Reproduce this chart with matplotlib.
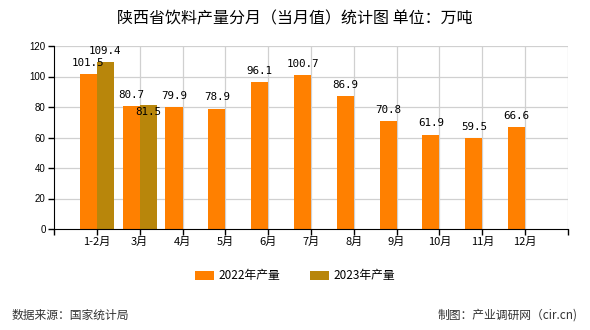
import numpy as np
import matplotlib
matplotlib.use("Agg")
import matplotlib.pyplot as plt

plt.rcParams['font.family'] = ['Noto Sans CJK SC', 'DejaVu Sans']

# dados mensais (万吨)
meses = ["1-2月", "3月", "4月", "5月", "6月", "7月", "8月", "9月", "10月", "11月", "12月"]
prod_2022 = [101.5, 80.7, 79.9, 78.9, 96.1, 100.7, 86.9, 70.8, 61.9, 59.5, 66.6]
prod_2023 = [109.4, 81.5]
yticks = [0, 20, 40, 60, 80, 100, 120]

cor_2022 = "#FF8000"
cor_2023 = "#B8860B"
largura = 0.4

fig = plt.figure(figsize=(5.9, 3.3), dpi=100)
ax = fig.add_axes([54 / 590, 1 - 229 / 330, (568 - 54) / 590, (229 - 46) / 330])

x = np.arange(len(meses))
x23 = np.arange(len(prod_2023))

# grade
for xv in range(1, len(meses) + 1):
    ax.axvline(xv, color="#d0d0d0", lw=0.9, zorder=0)
for yv in yticks[1:]:
    ax.axhline(yv, color="#d0d0d0", lw=0.9, zorder=0)

b1 = ax.bar(x - largura / 2, prod_2022, width=largura, color=cor_2022, zorder=2, label="2022年产量")
b2 = ax.bar(x23 + largura / 2, prod_2023, width=largura, color=cor_2023, zorder=2, label="2023年产量")

# rótulos de valor
for xi, v in zip(x, prod_2022):
    ax.annotate(f"{v:.1f}", (xi - largura / 2, v), xytext=(0, 4.5), textcoords="offset points",
                ha="center", va="bottom", fontsize=7.8, family="DejaVu Sans Mono", zorder=3)
for xi, v in zip(x23, prod_2023):
    if xi == 1:
        # evita sobreposição com o rótulo de 2022
        ax.annotate(f"{v:.1f}", (xi + largura / 2, v), xytext=(0, -1.5), textcoords="offset points",
                    ha="center", va="top", fontsize=7.8, family="DejaVu Sans Mono", zorder=3)
    else:
        ax.annotate(f"{v:.1f}", (xi + largura / 2, v), xytext=(0, 4.5), textcoords="offset points",
                    ha="center", va="bottom", fontsize=7.8, family="DejaVu Sans Mono", zorder=3)

ax.set_xlim(-1, len(meses))
ax.set_ylim(0, 120)
ax.set_xticks(np.arange(-1, len(meses) + 1))
ax.set_xticklabels([""] + meses + [""], fontsize=8)
ax.set_yticks(yticks)
ax.set_yticklabels([str(v) for v in yticks], fontsize=7, family="Liberation Sans")
ax.tick_params(axis="both", length=4, width=1, color="black", pad=2)

ax.spines["top"].set_visible(False)
ax.spines["right"].set_visible(False)

fig.text(0.5, 1 - 19 / 330, "陕西省饮料产量分月（当月值）统计图 单位：万吨", ha="center", va="center", fontsize=11.5)

fig.legend(handles=[b1, b2], loc="center", bbox_to_anchor=(0.5, 1 - 276 / 330), ncol=2,
           frameon=False, fontsize=8.5, handlelength=1.6, handleheight=0.7, columnspacing=2.5,
           handletextpad=0.4)

fig.text(12 / 590, 1 - 315 / 330, "数据来源：国家统计局", ha="left", va="center", fontsize=8.5, color="#333333")
fig.text(578 / 590, 1 - 315 / 330, "制图：产业调研网（cir.cn)", ha="right", va="center", fontsize=8.5, color="#333333")

fig.savefig("out.png", dpi=100)
